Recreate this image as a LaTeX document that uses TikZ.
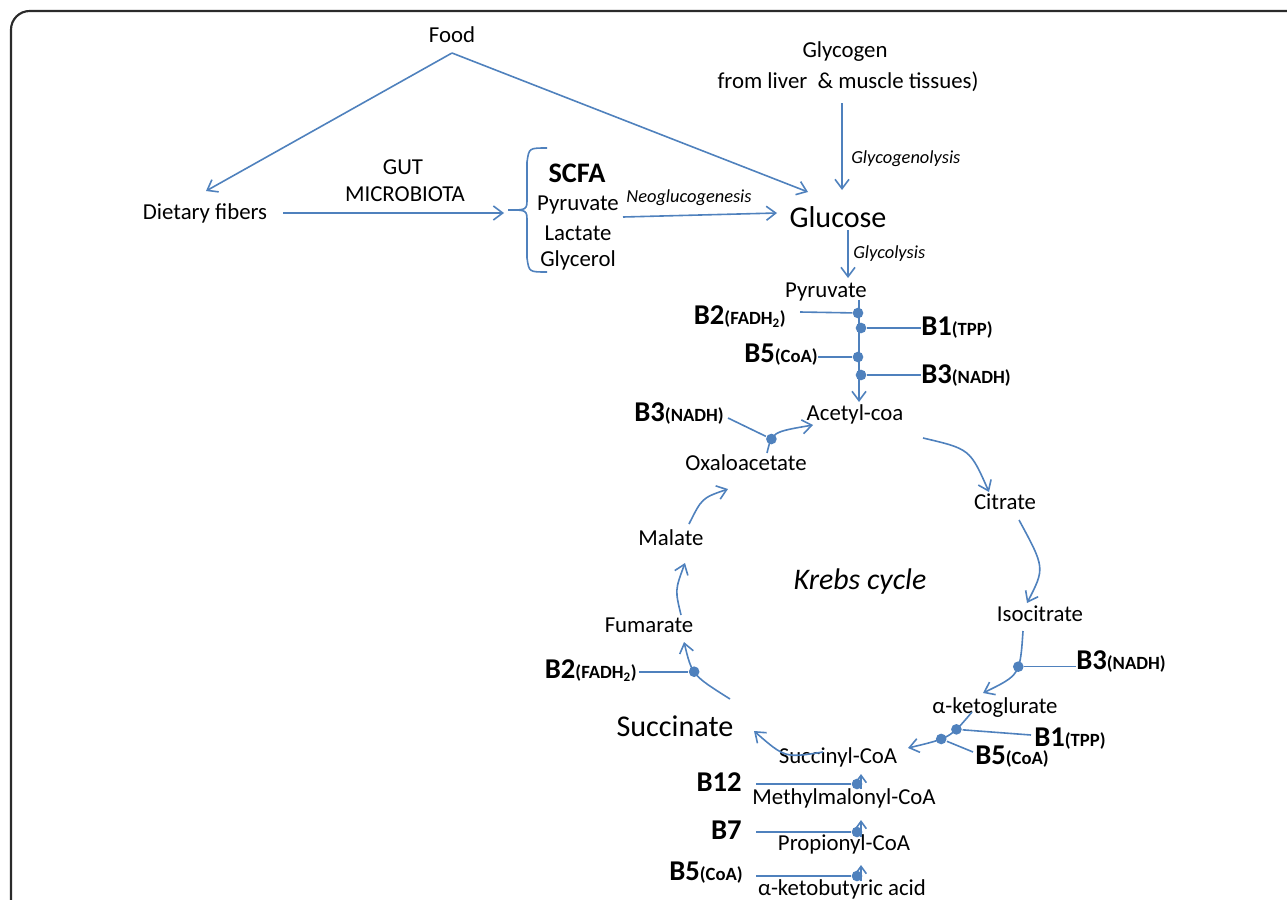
\documentclass[tikz,border=0pt]{standalone}
\usepackage{fontspec}
\setmainfont{Carlito}
\usetikzlibrary{arrows.meta}
\definecolor{lblue}{HTML}{4F81BD}
\definecolor{framec}{HTML}{2A2A2A}
\begin{document}
\begin{tikzpicture}[x=0.75pt,y=-0.75pt,
  conn/.style={draw=lblue, line width=1.2pt},
  arr/.style={conn, -{Straight Barb[length=7pt,width=10.5pt,line width=1.2pt]}},
  sarr/.style={conn, -{Straight Barb[length=5.5pt,width=8pt,line width=1.2pt]}},
  txt/.style={font=\fontsize{17.1}{18}\selectfont, inner sep=0pt},
  big/.style={font=\fontsize{22.6}{24}\selectfont, inner sep=0pt},
  lab/.style={font=\fontsize{13.8}{15}\selectfont\itshape, inner sep=0pt},
  krebs/.style={font=\fontsize{22.4}{24}\selectfont\itshape, inner sep=0pt},
  vit/.style={font=\fontsize{21.5}{23}\selectfont\bfseries, inner sep=0pt},
  scfastyle/.style={font=\fontsize{21.2}{23}\selectfont\bfseries, inner sep=0pt},
  dotc/.style={circle, fill=lblue, inner sep=0pt, minimum size=8pt}
]
\newcommand{\vsub}[1]{{\fontsize{14}{15}\selectfont #1}}
\useasboundingbox (0,0) rectangle (1287,899);
\draw[framec, line width=1.6pt, rounded corners=14pt] (11,910) -- (11,11) -- (1300,11);

% ---- texts ----
\node[txt] (food) at (452,35) {Food};
\node[txt] (glyco1) at (845,52) {Glycogen};
\node[txt] (glyco2) at (848,82) {from liver\ \ \& muscle tissues)};
\node[txt] (diet) at (205,213) {Dietary fibers};
\node[txt] (gut) at (403,167) {GUT};
\node[txt] (micro) at (405,194) {MICROBIOTA};
\node[scfastyle] (scfa) at (577,173) {SCFA};
\node[txt] (pyr1) at (578,205) {Pyruvate};
\node[txt] (lact) at (578,233) {Lactate};
\node[txt] (glyc) at (578,260) {Glycerol};
\node[lab] (neo) at (689,198) {Neoglucogenesis};
\node[big] (glucose) at (838,217) {Glucose};
\node[lab, anchor=west] (glgl) at (851,159) {Glycogenolysis};
\node[lab, anchor=west] (glly) at (853,254) {Glycolysis};
\node[txt] (pyr2) at (826,292) {Pyruvate};
\node[txt] (acetyl) at (855,414) {Acetyl-coa};
\node[txt] (oxa) at (746,463) {Oxaloacetate};
\node[txt] (malate) at (671,538) {Malate};
\node[txt] (fumarate) at (649,625) {Fumarate};
\node[big] (succinate) at (675,726) {Succinate};
\node[txt] (succoa) at (838,757) {Succinyl-CoA};
\node[txt] (aketo) at (995,708) {α-ketoglurate};
\node[txt] (isocit) at (1040,614) {Isocitrate};
\node[txt] (citrate) at (1005,502) {Citrate};
\node[krebs] (kc) at (860,582) {Krebs cycle};
\node[txt] (methyl) at (844,798) {Methylmalonyl-CoA};
\node[txt] (propio) at (844,844) {Propionyl-CoA};
\node[txt] (aketob) at (842,889) {α-ketobutyric acid};

% vitamins
\node[vit, anchor=east] (vB2a) at (786,317) {B2\vsub{(FADH\textsubscript{2})}};
\node[vit, anchor=west] (vB1a) at (921,328) {B1\vsub{(TPP)}};
\node[vit, anchor=east] (vB5a) at (818,355) {B5\vsub{(CoA)}};
\node[vit, anchor=west] (vB3a) at (921,376) {B3\vsub{(NADH)}};
\node[vit, anchor=east] (vB3b) at (724,414) {B3\vsub{(NADH)}};
\node[vit, anchor=east] (vB2b) at (637,671) {B2\vsub{(FADH\textsubscript{2})}};
\node[vit, anchor=west] (vB3c) at (1076,662) {B3\vsub{(NADH)}};
\node[vit, anchor=west] (vB1b) at (1034,739) {B1\vsub{(TPP)}};
\node[vit, anchor=west] (vB5b) at (975,757) {B5\vsub{(CoA)}};
\node[vit, anchor=east] (vB12) at (742,782) {B12};
\node[vit, anchor=east] (vB7) at (742,830) {B7};
\node[vit, anchor=east] (vB5c) at (743,873) {B5\vsub{(CoA)}};

% ---- coordinates ----
\coordinate (apex) at (452,53);
\coordinate (dietin) at (206,191);
\coordinate (gluin1) at (808,192);
\coordinate (glyout) at (842,103);
\coordinate (gluin2) at (842,190);
\coordinate (gluout) at (848,230);
\coordinate (pyrin) at (848,278);
\coordinate (dietout) at (283,213);
\coordinate (bracein) at (504,213);
\coordinate (scfaout) at (623,217);
\coordinate (gluin3) at (777,213);
\coordinate (pyrout) at (859,300);
\coordinate (acetin) at (859,402);

% ---- top connectors ----
\draw[arr] (apex) -- (dietin);
\draw[arr] (apex) -- (gluin1);
\draw[arr] (glyout) -- (gluin2);
\draw[arr] (gluout) -- (pyrin);
\draw[arr] (dietout) -- (bracein);
\draw[arr] (scfaout) -- (gluin3);
% brace
\draw[conn] (547,148) .. controls (529,148) .. (527,162) -- (527,198) .. controls (527,210) .. (508,210) .. controls (527,210) .. (527,222) -- (527,258) .. controls (529,272) .. (547,272);

% pyruvate -> acetyl-coa
\draw[arr] (pyrout) -- (acetin);
\node[dotc] (d1) at (858,313) {};
\node[dotc] (d2) at (861,328) {};
\node[dotc] (d3) at (858,357) {};
\node[dotc] (d4) at (861,375) {};
\draw[conn] (vB2a.east |- d1) ++(14,-1) coordinate (b2s) -- (d1);
\draw[conn] (d2) -- (vB1a.west |- d2);
\draw[conn] (vB5a.east |- d3) -- (d3);
\draw[conn] (d4) -- (vB3a.west |- d4);

% Krebs cycle
\draw[arr] (767,453) .. controls (772,432) .. (813,425) node[dotc, pos=0.3] (d5) {};
\draw[conn] (728,418) -- (d5);
\draw[arr] (923,438) .. controls (970,449) .. (989,492);
\draw[arr] (1019,520) .. controls (1045,568) .. (1027,603);
\draw[arr] (1023,631) .. controls (1020,675) .. (983,693) node[dotc, pos=0.4] (d6) {};
\draw[conn] (d6) -- (vB3c.west |- d6);
\draw[arr] (972,712) .. controls (950,738) .. (908,748) node[dotc, pos=0.3] (d7) {} node[dotc, pos=0.62] (d8) {};
\draw[conn] (d7) -- (1031,735);
\draw[conn] (d8) -- (973,752);
\draw[arr] (823,752) .. controls (785,758) .. (754,731);
\draw[arr] (730,699) .. controls (692,675) .. (684,642) node[dotc, pos=0.55] (d9) {};
\draw[conn] (639,0 |- d9) -- (d9);
\draw[arr] (681,615) .. controls (675,590) .. (685,563);
\draw[arr] (689,524) .. controls (702,498) .. (728,489);

% bottom chain
\node[dotc] (d10) at (857,784) {};
\node[dotc] (d11) at (857,832) {};
\node[dotc] (d12) at (857,876) {};
\draw[conn] (756,784) -- (d10);
\draw[conn] (756,832) -- (d11);
\draw[conn] (756,876) -- (d12);
\draw[sarr] (861,789) -- (861,774);
\draw[sarr] (861,837) -- (861,820);
\draw[sarr] (861,881) -- (861,865);
\end{tikzpicture}
\end{document}
